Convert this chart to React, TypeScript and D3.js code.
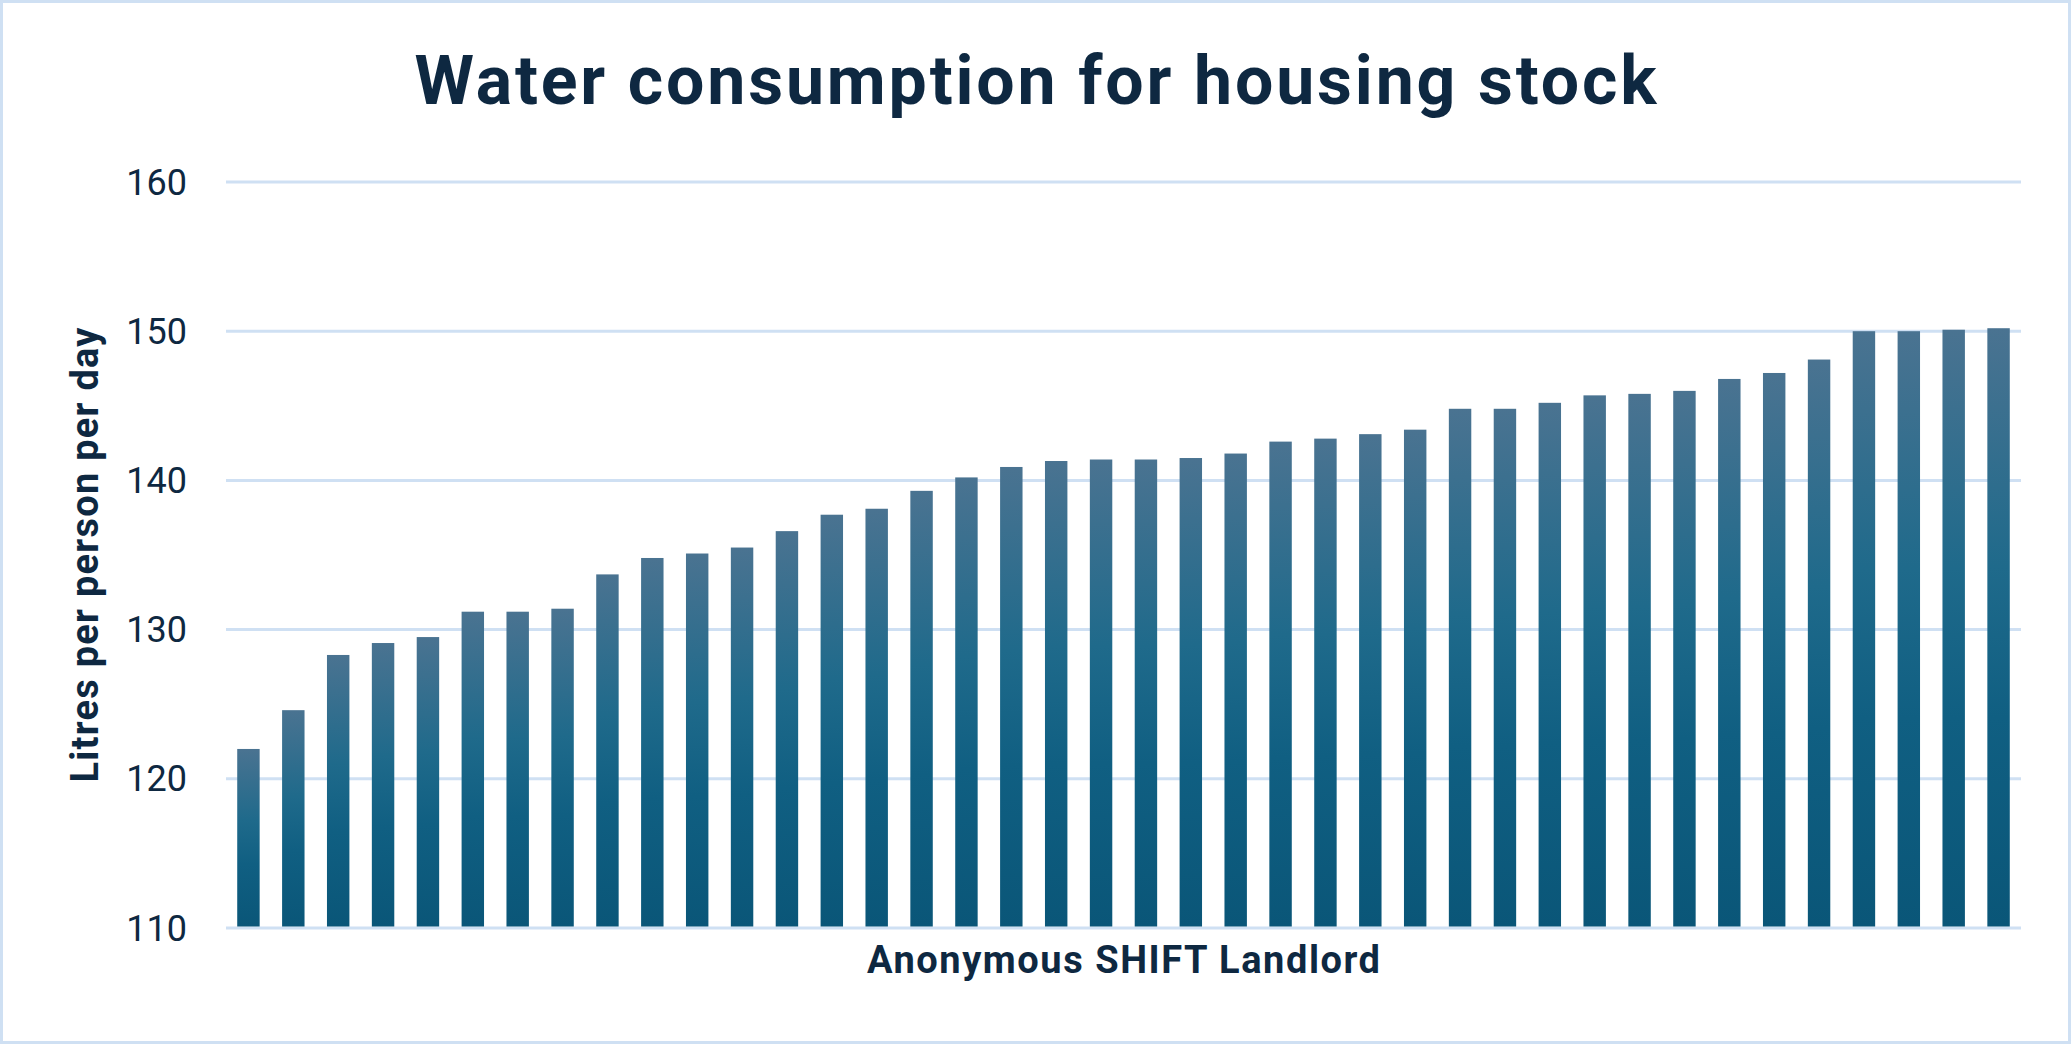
import React from 'react';
import * as d3 from 'd3';

// Litres per person per day, one bar per (anonymous) landlord, sorted ascending
const landlords = d3.range(1, 41).map((i) => `L${i}`);
const litres = [
  122.0, 124.6, 128.3, 129.1, 129.5, 131.2, 131.2, 131.4, 133.7, 134.8,
  135.1, 135.5, 136.6, 137.7, 138.1, 139.3, 140.2, 140.9, 141.3, 141.4,
  141.4, 141.5, 141.8, 142.6, 142.8, 143.1, 143.4, 144.8, 144.8, 145.2,
  145.7, 145.8, 146.0, 146.8, 147.2, 148.1, 150.0, 150.0, 150.1, 150.2,
];
const yTicks = [110, 120, 130, 140, 150, 160];

const TITLE = 'Water consumption for housing stock';
const X_TITLE = 'Anonymous SHIFT Landlord';
const Y_TITLE = 'Litres per person per day';

const W = 2071;
const H = 1044;
const FONT = 'Roboto, "Liberation Sans", sans-serif';
const INK = '#0e2841';
const GRID = '#cfe0f3';

export default function App() {
  const margin = { top: 182, right: 50, bottom: 116, left: 226 };
  const plotW = W - margin.left - margin.right;

  const x = d3
    .scaleBand<string>()
    .domain(landlords)
    .range([margin.left, margin.left + plotW])
    .paddingInner(0.5)
    .paddingOuter(0.25);

  const y = d3.scaleLinear().domain([110, 160]).range([H - margin.bottom, margin.top]);

  const plotMidY = (y(110) + y(160)) / 2;
  const plotMidX = margin.left + plotW / 2;

  return (
    <svg
      width={W}
      height={H}
      viewBox={`0 0 ${W} ${H}`}
      style={{ position: 'absolute', left: 0, top: 0, display: 'block' }}
      fontFamily={FONT}
    >
      <defs>
        <linearGradient id="barFill" x1="0" y1="0" x2="0" y2="1">
          <stop offset="0" stopColor="#4a7391" />
          <stop offset="0.4" stopColor="#1f6a8b" />
          <stop offset="0.65" stopColor="#105f82" />
          <stop offset="1" stopColor="#0a5678" />
        </linearGradient>
      </defs>

      <rect x={1.5} y={1.5} width={W - 3} height={H - 3} fill="#fff" stroke={GRID} strokeWidth={3} />

      <text
        x={W / 2}
        y={104}
        textAnchor="middle"
        fontSize={68}
        fontWeight={700}
        fill={INK}
        textLength={1242}
        lengthAdjust="spacing"
      >
        {TITLE}
      </text>

      {/* gridlines */}
      {yTicks.map((t) => (
        <line
          key={`g${t}`}
          x1={margin.left}
          x2={margin.left + plotW}
          y1={y(t)}
          y2={y(t)}
          stroke={GRID}
          strokeWidth={3}
        />
      ))}

      {/* y tick labels */}
      {yTicks.map((t) => (
        <text
          key={`t${t}`}
          x={187}
          y={y(t)}
          dy="0.35em"
          textAnchor="end"
          fontSize={36}
          fill={INK}
        >
          {t}
        </text>
      ))}

      {/* bars */}
      {litres.map((v, i) => (
        <rect
          key={landlords[i]}
          x={x(landlords[i])}
          y={y(v)}
          width={x.bandwidth()}
          height={y(110) - 1.5 - y(v)}
          fill="url(#barFill)"
        />
      ))}

      <text
        x={plotMidX}
        y={973}
        textAnchor="middle"
        fontSize={38}
        fontWeight={700}
        fill={INK}
        textLength={513}
        lengthAdjust="spacing"
      >
        {X_TITLE}
      </text>

      <text
        transform={`translate(98,${plotMidY}) rotate(-90)`}
        textAnchor="middle"
        fontSize={38}
        fontWeight={700}
        fill={INK}
        textLength={455}
        lengthAdjust="spacing"
      >
        {Y_TITLE}
      </text>
    </svg>
  );
}
